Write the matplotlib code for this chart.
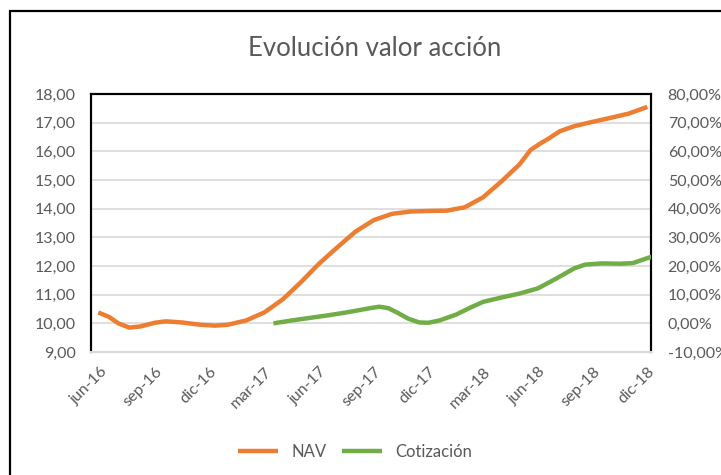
import matplotlib
matplotlib.use("Agg")
import matplotlib.pyplot as plt
from matplotlib.patches import Rectangle

plt.rcParams['font.family'] = ['Lato', 'DejaVu Sans']

title = "Evolución valor acción"
tick_labels = ["jun-16", "sep-16", "dic-16", "mar-17", "jun-17", "sep-17", "dic-17",
               "mar-18", "jun-18", "sep-18", "dic-18"]
tick_months = [0, 3, 6, 9, 12, 15, 18, 21, 24, 27, 30]  # months after jun-16

nav_months = [-0.1, 0.5, 1, 1.6, 2.2, 3, 3.6, 4.5, 5.5, 6.3, 7, 8, 9, 10, 11, 12, 13, 14,
              15, 16, 17, 18, 19, 20, 21, 22, 23, 23.6, 24.2, 24.6, 25.2, 26, 27, 28, 29, 30]
nav_values = [10.38, 10.22, 10.0, 9.85, 9.89, 10.02, 10.07, 10.03, 9.95, 9.92, 9.95, 10.1,
              10.38, 10.83, 11.43, 12.08, 12.65, 13.2, 13.6, 13.82, 13.9, 13.92, 13.93, 14.05,
              14.4, 14.95, 15.55, 16.05, 16.3, 16.45, 16.7, 16.88, 17.03, 17.17, 17.32, 17.55]

cot_months = [9.5, 10.5, 11.5, 12.5, 13.5, 14.2, 14.8, 15.3, 15.8, 16.3, 16.9, 17.5, 18.0,
              18.6, 19.5, 20.3, 21.0, 22.0, 23.0, 24.0, 25.0, 26.0, 26.6, 27.5, 28.5, 29.2, 30.3]
cot_values = [0.0, 1.0, 1.9, 2.8, 3.8, 4.6, 5.3, 5.8, 5.3, 3.7, 1.6, 0.3, 0.2, 1.0, 3.0, 5.5,
              7.5, 9.0, 10.4, 12.2, 15.6, 19.2, 20.5, 20.9, 20.8, 21.0, 23.4]

left_ticks = [9, 10, 11, 12, 13, 14, 15, 16, 17, 18]
right_ticks = [-10, 0, 10, 20, 30, 40, 50, 60, 70, 80]

TXT = '#595959'
ORANGE = '#ED7D31'
GREEN = '#70AD47'

W, H = 721, 475
fig = plt.figure(figsize=(W / 100, H / 100), dpi=100)

# outer chart frame
fig.patches.append(Rectangle((10 / W, -0.05), 1.2, 1 - 11 / H + 0.05, transform=fig.transFigure,
                             fill=False, edgecolor='black', linewidth=1.6))

ax = fig.add_axes([91 / W, 1 - 352 / H, 560 / W, 258 / H])
ax2 = ax.twinx()

ax.set_xlim(-0.5, 30.2)
ax.set_ylim(9, 18)
ax2.set_ylim(-10, 80)

for y in left_ticks[1:]:
    ax.axhline(y, color='#D9D9D9', linewidth=1.2, zorder=0)

ln1, = ax.plot(nav_months, nav_values, color=ORANGE, linewidth=3.2,
               solid_capstyle='butt', solid_joinstyle='round', label='NAV', zorder=3)
ln2, = ax2.plot(cot_months, cot_values, color=GREEN, linewidth=3.2,
                solid_capstyle='butt', solid_joinstyle='round', label='Cotización', zorder=3)

ax.set_yticks(left_ticks)
ax.set_yticklabels([f"{v:.2f}".replace('.', ',') for v in left_ticks])
ax2.set_yticks(right_ticks)
ax2.set_yticklabels([f"{v:.2f}%".replace('.', ',') for v in right_ticks])
ax.set_xticks(tick_months)
ax.set_xticklabels(tick_labels, rotation=45, ha='right', va='top', rotation_mode='anchor')

ax.tick_params(axis='y', length=0, pad=11, labelsize=11.5, labelcolor=TXT)
ax2.tick_params(axis='y', length=0, pad=12, labelsize=11.5, labelcolor=TXT)
ax.tick_params(axis='x', length=0, pad=9, labelsize=11.5, labelcolor=TXT)

for a in (ax, ax2):
    for s in ('left', 'top', 'right'):
        a.spines[s].set_color('black')
        a.spines[s].set_linewidth(1.5)
    a.spines['bottom'].set_color('#D9D9D9')
    a.spines['bottom'].set_linewidth(1.5)

fig.text(375 / W, 1 - 48 / H, title, ha='center', va='center', fontsize=18.5, color=TXT)

leg = fig.legend(handles=[ln1, ln2], loc='center', bbox_to_anchor=(355 / W, 1 - 452 / H),
                 ncol=2, frameon=False, fontsize=12, handlelength=2.4, columnspacing=0.9,
                 handletextpad=0.8)
for t in leg.get_texts():
    t.set_color(TXT)

fig.savefig('out.png', dpi=100)
